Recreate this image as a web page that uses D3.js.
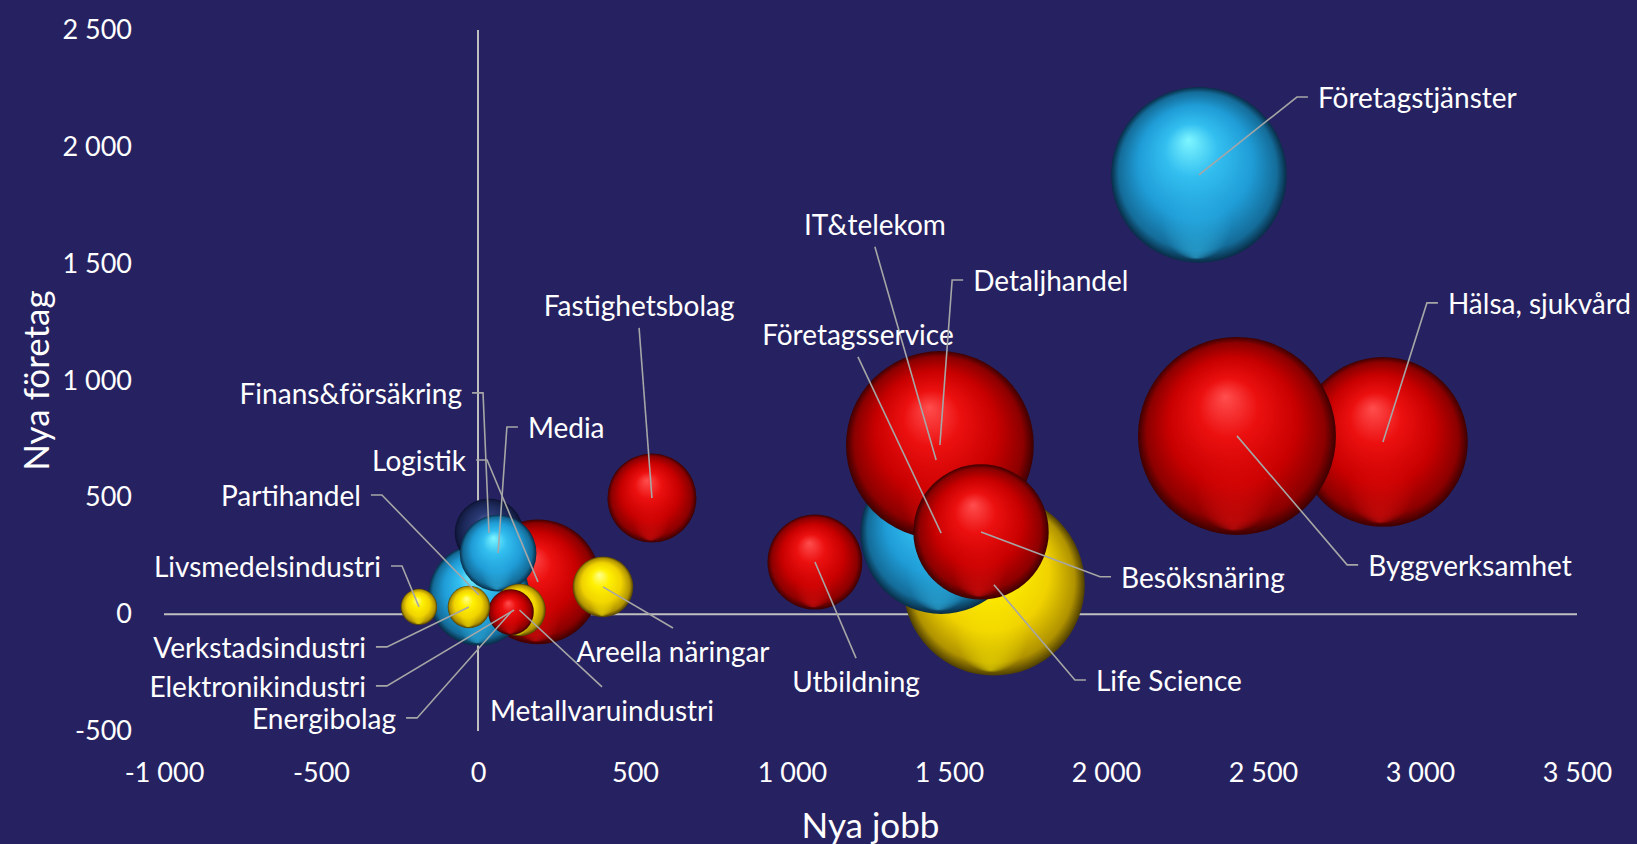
<!DOCTYPE html>
<html>
<head>
<meta charset="utf-8">
<script src="https://cdn.jsdelivr.net/npm/d3@7"></script>
<style>
  body { margin: 0; background: #262261; }
  svg { display: block; }
  text { font-family: "Source Sans Pro", Lato, "Open Sans", sans-serif; fill: #fff; }
</style>
</head>
<body>
<script>
// bransch, nya jobb (x), nya företag (y), storlek (bubbla), färggrupp
// ordningen = ritordning (först längst bak)
var branscher = ["Logistik", "Partihandel", "Finans&försäkring", "Media", "Elektronikindustri",
  "Metallvaruindustri", "Energibolag", "Verkstadsindustri", "Livsmedelsindustri", "Areella näringar",
  "Fastighetsbolag", "Utbildning", "Life Science", "IT&telekom", "Företagsservice",
  "Detaljhandel", "Besöksnäring", "Hälsa, sjukvård", "Byggverksamhet", "Företagstjänster"];
var nyaJobb    = [191, 3, 35, 64, 115, 132, 105, -29, -188, 398, 554, 1073, 1643, 1459, 1475, 1471, 1602, 2882, 2417, 2296];
var nyaForetag = [138, 82, 348, 261, 18, 18, 9, 31, 31, 117, 497, 223, 126, 660, 347, 724, 352, 737, 763, 1880];
var storlek    = [3900, 2550, 1180, 1470, 230, 690, 520, 450, 330, 920, 1980, 2250, 8260, 3670, 6530, 8820, 4580, 7200, 9800, 7720];
var grupp      = ["rod", "bla", "mork", "bla", "gul", "gul", "rod", "gul", "gul", "gul",
  "rod", "rod", "gul", "bla", "bla", "rod", "rod", "rod", "rod", "bla"];

var xTicks = [-1000, -500, 0, 500, 1000, 1500, 2000, 2500, 3000, 3500];
var yTicks = [-500, 0, 500, 1000, 1500, 2000, 2500];

// etiketternas ankarpunkt i dataenheter + var texten sitter (h = höger, v = vänster, t = ovan, b = under)
var etikettX = [29, -306, 16, 92, -290, 395, -194, -290, -242, 621, 513, 1204, 1901, 1264, 1210, 1510, 1981, 3022, 2768, 2608];
var etikettY = [660, 510, 947, 801, -307, -311, -444, -140, 206, -59, 1225, -188, -282, 1572, 1101, 1430, 160, 1332, 211, 2213];
var etikettSida = ["v", "v", "v", "h", "v", "b", "v", "v", "v", "b", "t", "b", "h", "t", "t", "h", "h", "h", "h", "h"];

var width = 1637, height = 844;

var svg = d3.select("body").append("svg")
    .attr("width", width)
    .attr("height", height);

svg.append("rect").attr("width", width).attr("height", height).attr("fill", "#262261");

var x = d3.scaleLinear().domain([-1000, 3500]).range([164, 1577]);
var y = d3.scaleLinear().domain([-500, 2500]).range([731, 30]);
var r = d3.scaleSqrt().domain([0, 9800]).range([0, 99]);

var sv = d3.formatLocale({ decimal: ",", thousands: " ", grouping: [3], currency: ["", " kr"], minus: "-" });
var fmt = sv.format(",d");

// gradienter för 3D-bubblor
var defs = svg.append("defs");
var farger = {
  rod:  ["#ff4e4e", "#ec1010", "#c80000", "#8c0000", "#3c0000"],
  bla:  ["#7ef6ff", "#33bff0", "#1f9cd6", "#146c99", "#082c46"],
  gul:  ["#ffff90", "#fff000", "#f0d200", "#b09200", "#4e3e00"],
  mork: ["#4a5a98", "#2a3a74", "#1e2b5e", "#141d44", "#0b1030"]
};
Object.keys(farger).forEach(function(k) {
  var g = defs.append("radialGradient").attr("id", "g-" + k)
    .attr("cx", "50%").attr("cy", "50%").attr("r", "50%")
    .attr("fx", "44%").attr("fy", "30%");
  var offs = [0, 0.3, 0.65, 0.9, 1];
  farger[k].forEach(function(c, i) {
    g.append("stop").attr("offset", offs[i]).attr("stop-color", c);
  });
  var rf = defs.append("radialGradient").attr("id", "r-" + k)
    .attr("cx", "50%").attr("cy", "50%").attr("r", "50%")
    .attr("fx", "48%").attr("fy", "97%");
  rf.append("stop").attr("offset", 0).attr("stop-color", farger[k][1]).attr("stop-opacity", 0.55);
  rf.append("stop").attr("offset", 0.4).attr("stop-color", farger[k][1]).attr("stop-opacity", 0);
});

// axellinjer genom noll
svg.append("line")
  .attr("x1", x(-1000)).attr("x2", x(3500))
  .attr("y1", y(0)).attr("y2", y(0))
  .attr("stroke", "#bfbfbf").attr("stroke-width", 2);
svg.append("line")
  .attr("x1", x(0)).attr("x2", x(0))
  .attr("y1", y(-500)).attr("y2", y(2500))
  .attr("stroke", "#bfbfbf").attr("stroke-width", 2);

// skalstreck (bara text)
var xAxis = svg.append("g")
  .attr("transform", "translate(0,773)")
  .call(d3.axisBottom(x).tickValues(xTicks).tickSize(0).tickPadding(0).tickFormat(fmt));
xAxis.select(".domain").remove();
xAxis.selectAll("text").attr("dy", "0.35em").style("font-size", "27px").attr("fill", "#fff");

var yAxis = svg.append("g")
  .attr("transform", "translate(132,0)")
  .call(d3.axisLeft(y).tickValues(yTicks).tickSize(0).tickPadding(0).tickFormat(fmt));
yAxis.select(".domain").remove();
yAxis.selectAll("text").attr("dy", "0.32em").style("font-size", "27px").attr("fill", "#fff");

// bubblor
var idx = d3.range(branscher.length);
var bub = svg.append("g").selectAll("g")
  .data(idx).enter()
  .append("g");
bub.append("circle")
  .attr("cx", function(i) { return x(nyaJobb[i]); })
  .attr("cy", function(i) { return y(nyaForetag[i]); })
  .attr("r", function(i) { return r(storlek[i]); })
  .attr("fill", function(i) { return "url(#g-" + grupp[i] + ")"; });
bub.append("circle")
  .attr("cx", function(i) { return x(nyaJobb[i]); })
  .attr("cy", function(i) { return y(nyaForetag[i]); })
  .attr("r", function(i) { return r(storlek[i]); })
  .attr("fill", function(i) { return "url(#r-" + grupp[i] + ")"; });

// hänvisningslinjer och etiketter
var lab = svg.append("g").selectAll("g")
  .data(idx).enter()
  .append("g");

lab.append("path")
  .attr("fill", "none")
  .attr("stroke", "#a6a6a6")
  .attr("stroke-width", 1.6)
  .attr("d", function(i) {
    var bx = x(nyaJobb[i]), by = y(nyaForetag[i]);
    var ex = x(etikettX[i]), ey = y(etikettY[i]);
    var s = etikettSida[i];
    if (s == "h") return "M" + bx + "," + by + "L" + ex + "," + ey + "H" + (ex + 11);
    if (s == "v") return "M" + bx + "," + by + "L" + ex + "," + ey + "H" + (ex - 11);
    return "M" + bx + "," + by + "L" + ex + "," + ey;
  });

lab.append("text")
  .style("font-size", "28px")
  .attr("dy", "0.35em")
  .attr("x", function(i) {
    var ex = x(etikettX[i]), s = etikettSida[i];
    if (s == "h") return ex + 21;
    if (s == "v") return ex - 21;
    return ex;
  })
  .attr("y", function(i) {
    var ey = y(etikettY[i]), s = etikettSida[i];
    if (s == "t") return ey - 22;
    if (s == "b") return ey + 24;
    return ey + 1;
  })
  .attr("text-anchor", function(i) {
    var s = etikettSida[i];
    return s == "h" ? "start" : (s == "v" ? "end" : "middle");
  })
  .text(function(i) { return branscher[i]; });

// axeltitlar
svg.append("text")
  .attr("x", (x(-1000) + x(3500)) / 2).attr("y", 826)
  .attr("dy", "0.35em")
  .attr("text-anchor", "middle")
  .style("font-size", "35px")
  .text("Nya jobb");

svg.append("text")
  .attr("transform", "translate(37," + ((y(-500) + y(2500)) / 2) + ") rotate(-90)")
  .attr("dy", "0.35em")
  .attr("text-anchor", "middle")
  .style("font-size", "35px")
  .text("Nya företag");
</script>
</body>
</html>
